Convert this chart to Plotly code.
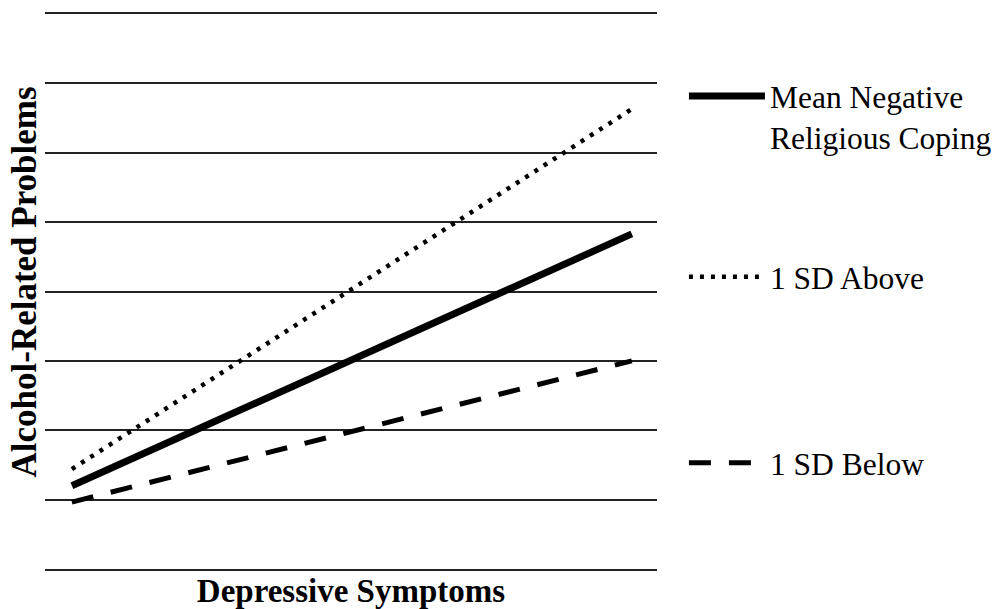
import plotly.graph_objects as go

# Depressive symptoms: low (-1 SD) and high (+1 SD)
x_levels = [0, 1]
mean_vals = [1.20, 4.83]
above_vals = [1.44, 6.63]
below_vals = [0.965, 3.00]

series_names = ["Mean Negative<br>Religious Coping", "1 SD Above", "1 SD Below"]
x_title = "Depressive Symptoms"
y_title = "Alcohol-Related Problems"

FONT = "Liberation Serif, Times New Roman, serif"

fig = go.Figure()
fig.add_trace(go.Scatter(x=x_levels, y=mean_vals, mode="lines", name=series_names[0],
                         line=dict(color="black", width=7), legend="legend"))
fig.add_trace(go.Scatter(x=x_levels, y=above_vals, mode="lines", name=series_names[1],
                         line=dict(color="black", width=4.5, dash="4px,7px"), legend="legend2"))
fig.add_trace(go.Scatter(x=x_levels, y=below_vals, mode="lines", name=series_names[2],
                         line=dict(color="black", width=5, dash="22px,18px"), legend="legend3"))

leg_common = dict(xanchor="left", yanchor="top", bgcolor="rgba(0,0,0,0)", borderwidth=0,
                  font=dict(family=FONT, size=31.5, color="black"), valign="top",
                  itemwidth=76, x=1.044)

fig.update_layout(
    width=995, height=609,
    margin=dict(l=45, r=338, t=14, b=40, autoexpand=False),
    paper_bgcolor="white", plot_bgcolor="white",
    showlegend=True,
    legend=dict(y=0.901, **leg_common),
    legend2=dict(y=0.5754, **leg_common),
    legend3=dict(y=0.240, **leg_common),
    xaxis=dict(range=[-0.048, 1.045], showgrid=False, zeroline=False, showticklabels=False,
               ticks="", showline=True, mirror=True, linecolor="#222", linewidth=1.5,
               automargin=False,
               title=dict(text="<b>" + x_title + "</b>", standoff=9,
                          font=dict(family=FONT, size=33, color="black"))),
    yaxis=dict(range=[0, 8], dtick=1, showgrid=True, gridcolor="#222", gridwidth=1.5,
               zeroline=False, showticklabels=False, ticks="", showline=False,
               automargin=False),
    annotations=[dict(text="<b>" + y_title + "</b>", textangle=-90, xref="paper", yref="paper",
                      x=-0.0327, y=0.518, xanchor="center", yanchor="middle", showarrow=False,
                      font=dict(family=FONT, size=35, color="black"))],
)

fig.write_html("out.html", config={"displayModeBar": False},
               post_script="document.body.style.margin='0px';")
